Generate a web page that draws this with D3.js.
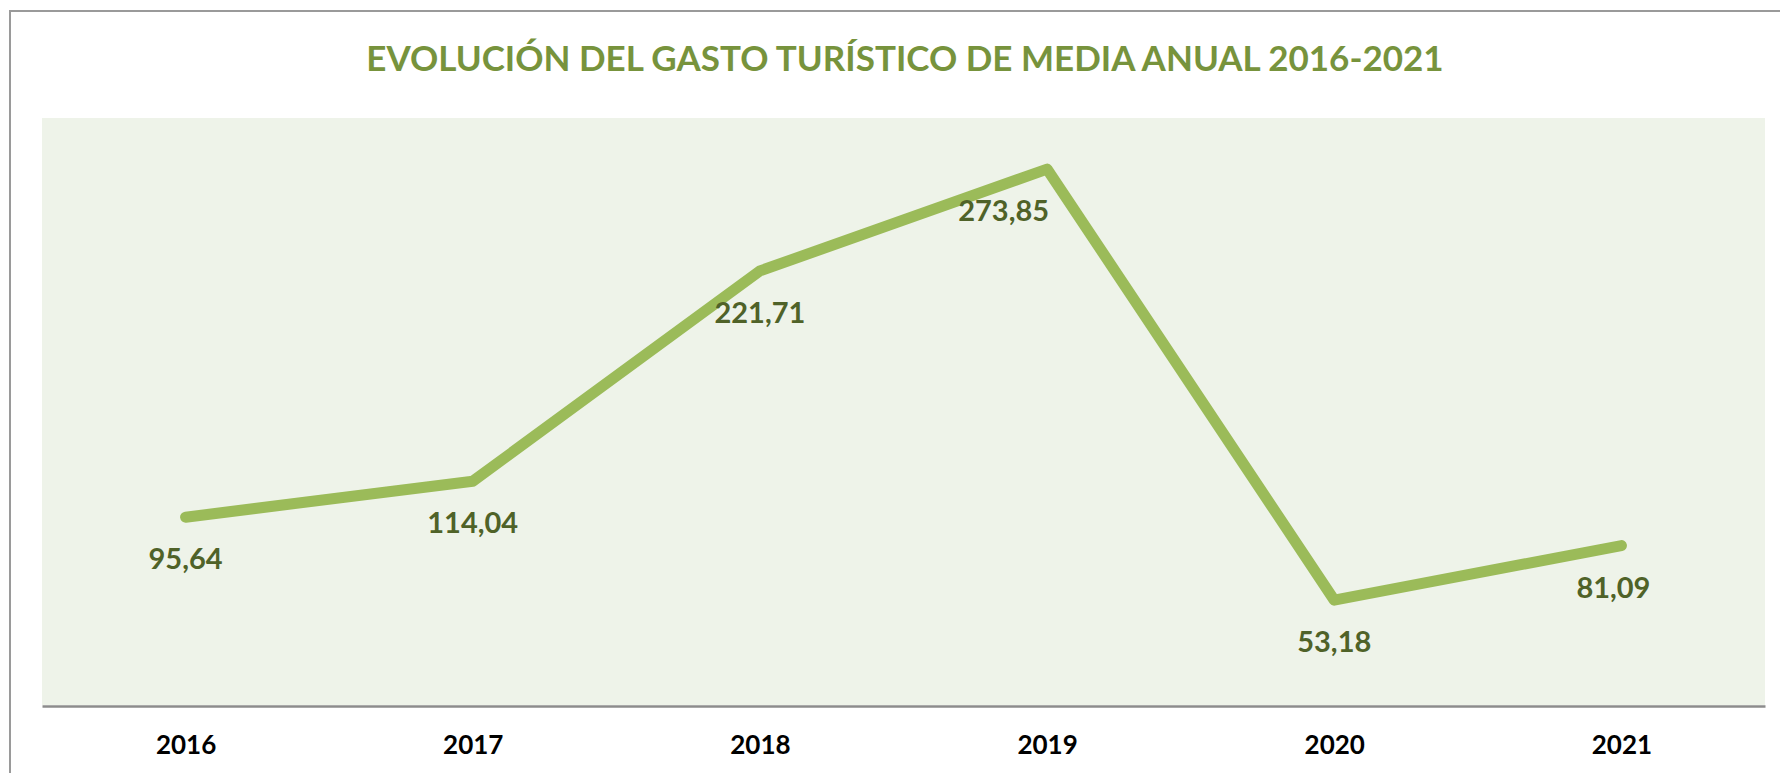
<!DOCTYPE html>
<html>
<head>
<meta charset="utf-8">
<script src="https://cdn.jsdelivr.net/npm/d3@7"></script>
<style>
    body { margin: 0; background: #fff; }
    svg { display: block; }
    .axis-x text { font-family: Lato, "Open Sans", sans-serif; font-weight: 700; font-size: 26px; fill: #000; }
    .axis-x path { stroke: #8c8c8c; stroke-width: 2.5px; }
</style>
</head>
<body>
<div id="chart"></div>
<script>
// data
let years = ["2016", "2017", "2018", "2019", "2020", "2021"];
let gasto = [95.64, 114.04, 221.71, 273.85, 53.18, 81.09];
let yMax = 300;

let width = 1780, height = 773;
let plot = {left: 42, right: 1765, top: 118, bottom: 705};

let svg = d3.select("#chart").append("svg")
    .attr("width", width)
    .attr("height", height);

// outer chart border
svg.append("rect")
    .attr("x", 10)
    .attr("y", 11)
    .attr("width", width + 20)
    .attr("height", height + 20)
    .attr("fill", "none")
    .attr("stroke", "#9a9a9a")
    .attr("stroke-width", 2);

svg.append("text")
    .attr("x", 905)
    .attr("y", 71)
    .attr("text-anchor", "middle")
    .attr("font-family", "Lato, 'Open Sans', sans-serif")
    .attr("font-weight", 700)
    .attr("font-size", "35px")
    .attr("fill", "#77933c")
    .text("EVOLUCIÓN DEL GASTO TURÍSTICO DE MEDIA ANUAL 2016-2021");

// plot area background
svg.append("rect")
    .attr("x", plot.left)
    .attr("y", plot.top)
    .attr("width", plot.right - plot.left)
    .attr("height", plot.bottom - plot.top)
    .attr("fill", "#eef3e9");

let x = d3.scalePoint()
    .domain(years)
    .range([plot.left, plot.right])
    .padding(0.5);

let y = d3.scaleLinear()
    .domain([0, yMax])
    .range([plot.bottom - 1, plot.top]);

let xAxis = svg.append("g")
    .attr("class", "axis-x")
    .attr("transform", "translate(0," + (plot.bottom + 1) + ")")
    .call(d3.axisBottom(x).tickSize(0).tickSizeOuter(0).tickPadding(30));

let points = years.map((d, i) => ({year: d, value: gasto[i]}));

let line = d3.line()
    .x(d => x(d.year))
    .y(d => y(d.value));

svg.append("path")
    .datum(points)
    .attr("d", line)
    .attr("fill", "none")
    .attr("stroke", "#9bbb59")
    .attr("stroke-width", 11)
    .attr("stroke-linecap", "round")
    .attr("stroke-linejoin", "round");

let fmt = v => v.toFixed(2).replace(".", ",");

svg.selectAll(".text-label")
    .data(points)
    .enter()
    .append("text")
    .attr("class", "text-label")
    // the peak label sits to the left of its point
    .attr("text-anchor", (d, i) => gasto[i] === d3.max(gasto) ? "end" : "middle")
    .attr("x", (d, i) => gasto[i] === d3.max(gasto) ? x(d.year) + 2 : x(d.year) - (i === years.length - 1 ? 8 : 0))
    .attr("y", d => y(d.value) + 52)
    .attr("font-family", "Lato, 'Open Sans', sans-serif")
    .attr("font-weight", 700)
    .attr("font-size", "29px")
    .attr("fill", "#4f6228")
    .text(d => fmt(d.value));
</script>
</body>
</html>
